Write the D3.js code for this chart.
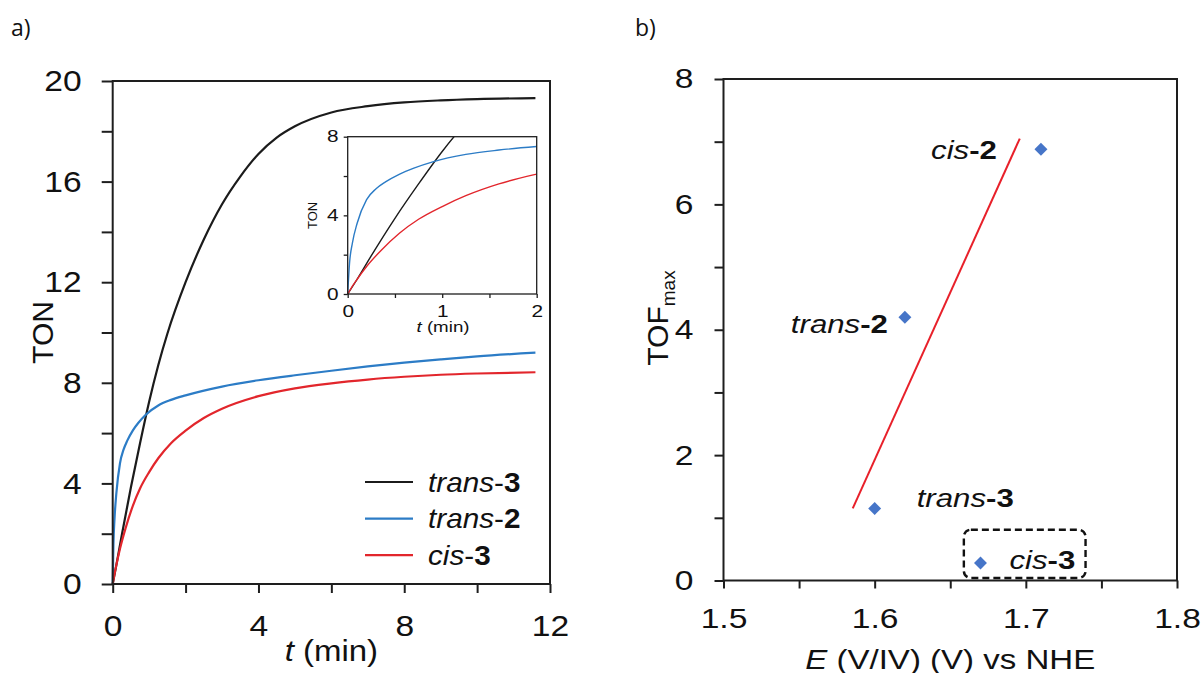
<!DOCTYPE html>
<html>
<head>
<meta charset="utf-8">
<script src="https://cdn.jsdelivr.net/npm/d3@7"></script>
<style>
  body { margin: 0; background: #fff; }
  text { font-family: "Liberation Sans", Arial, Helvetica, sans-serif; }
</style>
</head>
<body>
<svg id="chart" width="1202" height="673"></svg>
<script>
const FONT = '"Liberation Sans", Arial, Helvetica, sans-serif';
const INK = "#1e1e1e";

// panel a: TON against t (min)
const seriesNames = ["trans-3", "trans-2", "cis-3"];
const seriesColors = ["#1b1b1b", "#2c7cc6", "#e2262c"];
const trans3 = [[0, 0], [0.1, 0.75], [0.25, 1.95], [0.5, 3.85], [0.75, 5.6], [1, 7.25], [1.25, 8.7],
    [1.5, 9.95], [2, 12.0], [2.5, 13.7], [3, 15.1], [3.5, 16.2], [4, 17.1], [4.5, 17.75], [5, 18.2],
    [6, 18.75], [7, 19.0], [8, 19.15], [9, 19.23], [10, 19.28], [11.6, 19.32]];
const trans2 = [[0, 0], [0.02, 1.6], [0.05, 2.6], [0.1, 3.6], [0.2, 4.8], [0.3, 5.35], [0.4, 5.7],
    [0.55, 6.1], [0.7, 6.4], [0.9, 6.72], [1.25, 7.1], [1.6, 7.32], [2, 7.5], [3, 7.85], [4, 8.1],
    [5, 8.3], [6, 8.48], [7, 8.65], [8, 8.8], [9, 8.93], [10, 9.05], [11.6, 9.2]];
const cis3 = [[0, 0], [0.05, 0.4], [0.1, 0.75], [0.2, 1.4], [0.35, 2.2], [0.55, 3.1], [0.75, 3.8],
    [1, 4.45], [1.25, 5.0], [1.6, 5.6], [2, 6.1], [2.5, 6.6], [3, 6.97], [4, 7.47], [5, 7.78],
    [6, 7.98], [7, 8.13], [8, 8.24], [9, 8.32], [10, 8.37], [11.6, 8.42]];
const ticksT = [0, 2, 4, 6, 8, 10, 12];
const ticksTON = [0, 2, 4, 6, 8, 10, 12, 14, 16, 18, 20];
const insetTicksT = [0, 0.5, 1, 1.5, 2];
const insetTicksTON = [0, 2, 4, 6, 8];

// panel b: TOFmax against E(V/IV)
const complexes = ["trans-3", "trans-2", "cis-2", "cis-3"];
const potentialE = [1.60, 1.62, 1.71, 1.67];
const tofMax = [1.15, 4.2, 6.88, 0.28];
const fitE = [1.5855, 1.696];
const fitTOF = [1.15, 7.05];
const ticksE = [1.5, 1.55, 1.6, 1.65, 1.7, 1.75, 1.8];
const ticksTOF = [0, 1, 2, 3, 4, 5, 6, 7, 8];

const svg = d3.select("#chart");

// the source figure is stretched sideways, so text gets a scaleX too
function stretch(texts, sx) {
    texts.each(function () {
        const t = d3.select(this);
        const x = +t.attr("x") || 0;
        t.attr("x", null).attr("transform", `translate(${x},0) scale(${sx},1)`);
    });
}

function drawAxes(g, x, y, o) {
    const gx = g.append("g")
        .attr("transform", `translate(0,${y.range()[0]})`)
        .call(d3.axisBottom(x).tickValues(o.xTicks).tickSize(o.xTick)
            .tickSizeOuter(0).tickPadding(o.xPad).tickFormat(o.xFmt));
    const gy = g.append("g")
        .attr("transform", `translate(${x.range()[0]},0)`)
        .call(d3.axisLeft(y).tickValues(o.yTicks).tickSize(o.yTick)
            .tickSizeOuter(0).tickPadding(o.yPad).tickFormat(o.yFmt));
    [gx, gy].forEach(a => {
        a.select(".domain").remove();
        a.selectAll(".tick line").attr("stroke", INK).attr("stroke-width", o.sw);
        a.selectAll(".tick text")
            .attr("font-size", o.fs)
            .attr("font-family", FONT)
            .attr("fill", "#111");
        stretch(a.selectAll(".tick text"), o.sx);
    });
    g.append("rect")
        .attr("x", x.range()[0])
        .attr("y", y.range()[1])
        .attr("width", x.range()[1] - x.range()[0])
        .attr("height", y.range()[0] - y.range()[1])
        .attr("fill", o.fill || "none")
        .attr("stroke", INK)
        .attr("stroke-width", o.sw);
}

// "trans-3" -> italic prefix, bold number
function nameText(sel, name, boldDash) {
    const [pre, num] = name.split("-");
    sel.append("tspan").attr("font-style", "italic").text(pre);
    sel.append("tspan").attr("font-weight", boldDash ? "bold" : null).text("-");
    sel.append("tspan").attr("font-weight", "bold").text(num);
}

// panel labels
[["a)", 11], ["b)", 635]].forEach(([lab, lx]) => {
    svg.append("text").attr("x", lx).attr("y", 36)
        .style("font-family", '"Open Sans", "Noto Sans", sans-serif')
        .style("font-size", "23px").attr("fill", "#111").text(lab);
});

// ---------- panel a ----------
const xA = d3.scaleLinear([0, 12], [112.7, 550]);
const yA = d3.scaleLinear([0, 20], [584, 81]);
const gA = svg.append("g");

const seriesA = [trans3, trans2, cis3];
const lineA = d3.line().x(d => xA(d[0])).y(d => yA(d[1])).curve(d3.curveMonotoneX);
gA.selectAll("path.curve")
    .data(seriesA)
    .join("path")
    .attr("class", "curve")
    .attr("d", lineA)
    .attr("fill", "none")
    .attr("stroke", (d, i) => seriesColors[i])
    .attr("stroke-width", 2.2);

drawAxes(gA, xA, yA, {
    xTicks: ticksT, yTicks: ticksTON,
    xFmt: d => (d % 4 === 0 ? d : ""), yFmt: d => (d % 4 === 0 ? d : ""),
    xTick: 9, yTick: 11, xPad: 22, yPad: 20, fs: 30, sx: 1.12, sw: 2
});

gA.append("text")
    .attr("transform", `translate(${(xA.range()[0] + xA.range()[1]) / 2},661) scale(1.1,1)`)
    .attr("text-anchor", "middle").attr("font-size", 30).attr("fill", "#111")
    .call(t => {
        t.append("tspan").attr("font-style", "italic").text("t");
        t.append("tspan").text(" (min)");
    });
gA.append("text")
    .attr("transform", `translate(53,${(yA.range()[0] + yA.range()[1]) / 2}) rotate(-90)`)
    .attr("text-anchor", "middle").attr("font-size", 30).attr("fill", "#111")
    .text("TON");

// legend
const legA = gA.append("g");
seriesNames.forEach((name, i) => {
    const ly = 482 + i * 36.6;
    legA.append("line")
        .attr("x1", 365).attr("x2", 413).attr("y1", ly).attr("y2", ly)
        .attr("stroke", seriesColors[i]).attr("stroke-width", 2.2);
    legA.append("text")
        .attr("transform", `translate(428,${ly + 9.5}) scale(1.1,1)`)
        .attr("font-size", 27).attr("fill", "#111")
        .call(nameText, name, false);
});

// inset
const xI = d3.scaleLinear([0, 2], [347.7, 536.7]);
const yI = d3.scaleLinear([0, 8], [294, 136.7]);
const gI = gA.append("g");
gI.append("rect")
    .attr("x", xI.range()[0]).attr("y", yI.range()[1])
    .attr("width", xI.range()[1] - xI.range()[0])
    .attr("height", yI.range()[0] - yI.range()[1])
    .attr("fill", "#fff");
gI.append("clipPath").attr("id", "insetClip")
    .append("rect")
    .attr("x", xI.range()[0]).attr("y", yI.range()[1])
    .attr("width", xI.range()[1] - xI.range()[0])
    .attr("height", yI.range()[0] - yI.range()[1]);
const lineI = d3.line().x(d => xI(d[0])).y(d => yI(d[1])).curve(d3.curveMonotoneX);
gI.append("g").attr("clip-path", "url(#insetClip)")
    .selectAll("path")
    .data(seriesA.map(s => s.filter(d => d[0] <= 2.5)))
    .join("path")
    .attr("d", lineI)
    .attr("fill", "none")
    .attr("stroke", (d, i) => seriesColors[i])
    .attr("stroke-width", 1.4);
drawAxes(gI, xI, yI, {
    xTicks: insetTicksT, yTicks: insetTicksTON,
    xFmt: d => (Number.isInteger(d) ? d : ""), yFmt: d => (d % 4 === 0 ? d : ""),
    xTick: 4, yTick: 4, xPad: 8, yPad: 5, fs: 16, sx: 1.3, sw: 1.3
});
gI.append("text")
    .attr("transform", `translate(443,332) scale(1.25,1)`)
    .attr("text-anchor", "middle").attr("font-size", 15).attr("fill", "#111")
    .call(t => {
        t.append("tspan").attr("font-style", "italic").text("t");
        t.append("tspan").text(" (min)");
    });
gI.append("text")
    .attr("transform", `translate(317,${(yI.range()[0] + yI.range()[1]) / 2}) rotate(-90)`)
    .attr("text-anchor", "middle").attr("font-size", 13).attr("fill", "#111")
    .text("TON");

// ---------- panel b ----------
const xB = d3.scaleLinear([1.5, 1.8], [723.5, 1177]);
const yB = d3.scaleLinear([0, 8], [580.5, 79]);
const gB = svg.append("g");

drawAxes(gB, xB, yB, {
    xTicks: ticksE, yTicks: ticksTOF,
    xFmt: (d, i) => (i % 2 === 0 ? d.toFixed(1) : ""), yFmt: d => (d % 2 === 0 ? d : ""),
    xTick: 8, yTick: 9, xPad: 20, yPad: 21, fs: 28, sx: 1.2, sw: 2
});

gB.append("path")
    .datum(fitE.map((e, i) => [e, fitTOF[i]]))
    .attr("d", d3.line().x(d => xB(d[0])).y(d => yB(d[1])))
    .attr("stroke", "#e8202a").attr("stroke-width", 2).attr("fill", "none");

const pts = complexes.map((name, i) => ({ name, e: potentialE[i], tof: tofMax[i] }));
gB.selectAll("path.pt")
    .data(pts)
    .join("path")
    .attr("class", "pt")
    .attr("d", d3.symbol(d3.symbolSquare, 84))
    .attr("transform", d => `translate(${xB(d.e)},${yB(d.tof)}) rotate(45)`)
    .attr("fill", "#4675c8");

// label placement relative to each point (dx, dy, anchor)
const labelPos = {
    "trans-3": [42, -1, "start"],
    "trans-2": [-17, 16, "end"],
    "cis-2": [-44, 10, "end"],
    "cis-3": [29, 6, "start"]
};
pts.forEach(p => {
    const [dx, dy, anchor] = labelPos[p.name];
    gB.append("text")
        .attr("transform", `translate(${xB(p.e) + dx},${yB(p.tof) + dy}) scale(1.2,1)`)
        .attr("text-anchor", anchor).attr("font-size", 26).attr("fill", "#111")
        .call(nameText, p.name, true);
});

// dashed box round cis-3
const box = [1.659, 1.7395, 0.04, 0.81];
gB.append("rect")
    .attr("x", xB(box[0])).attr("y", yB(box[3]))
    .attr("width", xB(box[1]) - xB(box[0]))
    .attr("height", yB(box[2]) - yB(box[3]))
    .attr("rx", 7)
    .attr("fill", "none").attr("stroke", "#111")
    .attr("stroke-width", 2.4).attr("stroke-dasharray", "7,4");

gB.append("text")
    .attr("transform", `translate(${(xB.range()[0] + xB.range()[1]) / 2},669) scale(1.18,1)`)
    .attr("text-anchor", "middle").attr("font-size", 28).attr("fill", "#111")
    .call(t => {
        t.append("tspan").attr("font-style", "italic").text("E");
        t.append("tspan").text(" (V/IV) (V) vs NHE");
    });
gB.append("text")
    .attr("transform", `translate(668,318) rotate(-90)`)
    .attr("text-anchor", "middle").attr("font-size", 30).attr("fill", "#111")
    .call(t => {
        t.append("tspan").text("TOF");
        t.append("tspan").attr("font-size", 19).attr("dy", 7).text("max");
    });
</script>
</body>
</html>
